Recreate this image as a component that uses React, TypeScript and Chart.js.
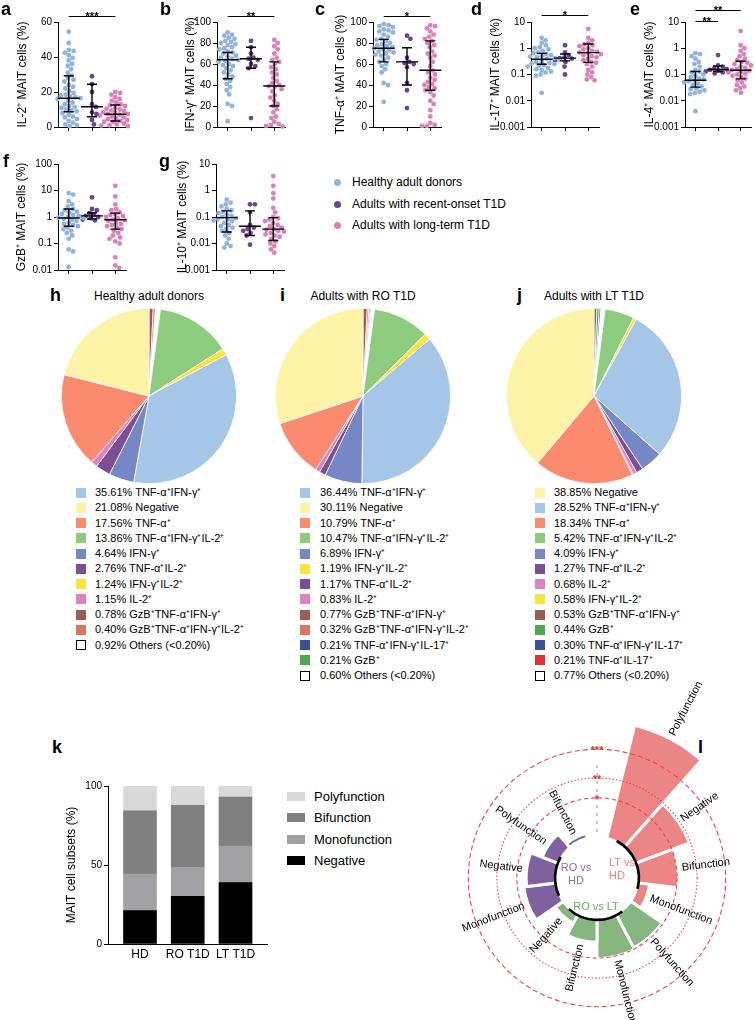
import React, { useEffect, useRef } from "react";
import { Chart, registerables } from "chart.js";

Chart.register(...registerables);

const FONT = '"Liberation Sans", Arial, Helvetica, sans-serif';
Chart.defaults.font.family = FONT;
Chart.defaults.color = "#000";

/* ================= DATA ================= */
const groupNames = ["Healthy adult donors", "Adults with recent-onset T1D", "Adults with long-term T1D"];
const groupColors = ["#8fb3e3", "#6a4592", "#dc80bb"];

// a: IL-2+
const aHD = [54.5, 48, 44, 43.5, 42.5, 41, 39.5, 38, 36, 35, 33, 31, 29.5, 28, 27, 26, 24, 23, 22, 20.5, 19.5, 18.5, 18, 17.5, 17, 16.5, 16, 15, 14, 13, 12, 11.5, 11, 10, 9.5, 9, 8, 7, 6, 5.5, 4.5, 3.5, 2.5, 1.5, 1, 0.5];
const aRO = [29, 24.5, 20, 13, 11.5, 8.5, 7.5, 4, 1.5];
const aLT = [20, 19.5, 18.5, 17, 16, 15, 14, 13, 12.5, 12, 11, 10.5, 10, 9.5, 9, 8.5, 8, 7.5, 7.5, 7, 6.5, 6, 5.5, 5, 4.5, 4, 3.5, 3, 3, 2.5, 2, 1.5, 1, 0.8, 0.5, 0.3];
const aMedian = [16.4, 11.6, 7.3];
const aQ1 = [8.7, 5.9, 3.4];
const aQ3 = [29.3, 24.4, 12.6];
const aTicks = [0, 20, 40, 60];
const aTickLabels = ["0", "20", "40", "60"];
const aSig = [[1, 3, "***"]];

// b: IFN-g+
const bHD = [90, 88, 87, 85, 84, 82, 81, 80, 79, 78, 76, 75, 74, 72, 71, 70, 68, 67, 66, 65, 64, 63, 62, 60, 59, 58, 56, 54, 52, 50, 48, 46, 44, 41, 38, 35, 31, 22, 20, 5.5];
const bRO = [82, 76, 70, 66, 65, 64, 60, 58, 56, 8.5];
const bLT = [83, 80, 77, 74, 70, 66, 64, 62, 60, 57, 55, 52, 50, 47, 44, 42, 40, 39, 38, 36, 34, 30, 28, 25, 22, 20, 17, 14, 10, 8.5, 5, 3, 2, 1, 0.5];
const bMedian = [64, 65, 39];
const bQ1 = [46, 56, 20];
const bQ3 = [71, 76, 62];
const pctTicks = [0, 20, 40, 60, 80, 100];
const pctTickLabels = ["0", "20", "40", "60", "80", "100"];
const bSig = [[1, 3, "**"]];

// c: TNF-a+
const cHD = [98, 97, 96, 95, 93, 92, 91, 90, 88, 86, 84, 83, 82, 80, 79, 78, 77, 76, 75, 74, 73, 72, 71, 70, 69, 68, 66, 64, 62, 60, 58, 55, 52, 42, 40, 24];
const cRO = [87, 84, 66, 62, 61, 60, 57, 42, 35, 18];
const cLT = [97, 96, 94, 91, 88, 86, 84, 82, 80, 78, 76, 72, 70, 68, 66, 62, 58, 54, 52, 50, 47, 45, 43, 41, 40, 38, 37, 35, 33, 30, 25, 22, 16, 10, 4, 2, 1, 1];
const cMedian = [75, 62, 54];
const cQ1 = [62, 40, 35];
const cQ3 = [83.5, 75.5, 82];
const cSig = [[1, 3, "*"]];

// d: IL-17+
const dHD = [2.5, 2.0, 1.6, 1.3, 1.1, 1.0, 0.9, 0.8, 0.7, 0.65, 0.6, 0.55, 0.5, 0.48, 0.45, 0.42, 0.4, 0.38, 0.37, 0.35, 0.33, 0.3, 0.28, 0.26, 0.25, 0.23, 0.22, 0.2, 0.18, 0.16, 0.15, 0.13, 0.12, 0.1, 0.09, 0.02];
const dRO = [1.3, 0.7, 0.55, 0.45, 0.42, 0.4, 0.35, 0.3, 0.2, 0.1];
const dLT = [5.5, 2.5, 2.0, 1.6, 1.4, 1.3, 1.2, 1.0, 0.9, 0.8, 0.75, 0.7, 0.65, 0.6, 0.55, 0.5, 0.45, 0.4, 0.35, 0.3, 0.28, 0.25, 0.2, 0.15, 0.12, 0.1, 0.08, 0.065, 0.06];
const dMedian = [0.38, 0.42, 0.68];
const dQ1 = [0.245, 0.33, 0.29];
const dQ3 = [0.64, 0.6, 1.45];
const logTicks3 = [0.001, 0.01, 0.1, 1, 10];
const logTickLabels3 = ["0.001", "0.01", "0.1", "1", "10"];
const dSig = [[1, 3, "*"]];

// e: IL-4+
const eHD = [0.65, 0.6, 0.5, 0.4, 0.3, 0.25, 0.2, 0.15, 0.13, 0.12, 0.1, 0.09, 0.08, 0.07, 0.065, 0.06, 0.055, 0.05, 0.045, 0.04, 0.035, 0.03, 0.028, 0.025, 0.022, 0.02, 0.018, 0.004];
const eRO = [0.55, 0.22, 0.2, 0.17, 0.16, 0.15, 0.14, 0.13, 0.12, 0.11];
const eLT = [4.5, 1.3, 1.0, 0.8, 0.6, 0.5, 0.4, 0.35, 0.3, 0.28, 0.25, 0.22, 0.2, 0.18, 0.16, 0.15, 0.14, 0.13, 0.12, 0.11, 0.1, 0.09, 0.08, 0.07, 0.06, 0.05, 0.04, 0.035, 0.03, 0.025, 0.02];
const eMedian = [0.06, 0.155, 0.145];
const eQ1 = [0.033, 0.13, 0.068];
const eQ3 = [0.13, 0.21, 0.32];
const eSig = [[1, 3, "**"], [1, 2, "**"]];

// f: GzB+
const fHD = [8, 7, 4, 3, 2.5, 2, 1.8, 1.6, 1.5, 1.3, 1.2, 1.1, 1.0, 0.95, 0.9, 0.85, 0.8, 0.7, 0.6, 0.55, 0.5, 0.45, 0.4, 0.35, 0.3, 0.25, 0.2, 0.15, 0.06, 0.05, 0.013];
const fRO = [5.5, 2.0, 1.8, 1.4, 1.2, 1.1, 1.0, 0.9, 0.8, 0.75];
const fLT = [15, 6, 3, 2, 1.8, 1.5, 1.3, 1.2, 1.1, 1.0, 0.9, 0.8, 0.75, 0.7, 0.6, 0.55, 0.5, 0.45, 0.4, 0.35, 0.3, 0.25, 0.2, 0.17, 0.15, 0.12, 0.1, 0.03, 0.015, 0.012];
const fMedian = [0.92, 1.1, 0.79];
const fQ1 = [0.45, 0.84, 0.35];
const fQ3 = [2.0, 1.45, 1.4];
const logTicks2 = [0.01, 0.1, 1, 10, 100];
const logTickLabels2 = ["0.01", "0.1", "1", "10", "100"];

// g: IL-10+
const gHD = [0.45, 0.35, 0.3, 0.25, 0.2, 0.18, 0.16, 0.14, 0.12, 0.11, 0.1, 0.09, 0.085, 0.08, 0.075, 0.07, 0.06, 0.05, 0.045, 0.04, 0.035, 0.03, 0.025, 0.02, 0.015, 0.01, 0.008, 0.007];
const gRO = [0.3, 0.3, 0.15, 0.05, 0.04, 0.035, 0.03, 0.025, 0.02, 0.009];
const gLT = [3.5, 1.5, 0.8, 0.5, 0.22, 0.15, 0.1, 0.09, 0.08, 0.07, 0.06, 0.05, 0.045, 0.04, 0.035, 0.033, 0.03, 0.028, 0.025, 0.022, 0.02, 0.018, 0.015, 0.012, 0.01, 0.008, 0.006, 0.0045];
const gMedian = [0.095, 0.045, 0.035];
const gQ1 = [0.027, 0.02, 0.013];
const gQ3 = [0.17, 0.17, 0.095];

// Pies (slice order clockwise from 12 o'clock)
const OTHERS = "Others (<0.20%)";
const pieColorMap = {
  "TNF-α⁺IFN-γ⁺": "#a5c6e6",
  "Negative": "#fcf3a6",
  "TNF-α⁺": "#fa8b6f",
  "TNF-α⁺IFN-γ⁺IL-2⁺": "#8dcc7f",
  "IFN-γ⁺": "#7687c6",
  "TNF-α⁺IL-2⁺": "#7b4f98",
  "IFN-γ⁺IL-2⁺": "#f7e43c",
  "IL-2⁺": "#de83bf",
  "GzB⁺TNF-α⁺IFN-γ⁺": "#9c5d55",
  "GzB⁺TNF-α⁺IFN-γ⁺IL-2⁺": "#da765e",
  "GzB⁺": "#4fa84e",
  "TNF-α⁺IFN-γ⁺IL-17⁺": "#3d4f95",
  "TNF-α⁺IL-17⁺": "#e0312f",
  [OTHERS]: "#ffffff",
};
const hTitle = "Healthy adult donors";
const hLabels = ["GzB⁺TNF-α⁺IFN-γ⁺", "GzB⁺TNF-α⁺IFN-γ⁺IL-2⁺", OTHERS, "TNF-α⁺IFN-γ⁺IL-2⁺", "IFN-γ⁺IL-2⁺", "TNF-α⁺IFN-γ⁺", "IFN-γ⁺", "TNF-α⁺IL-2⁺", "IL-2⁺", "TNF-α⁺", "Negative"];
const hValues = [0.78, 0.40, 0.92, 13.86, 1.24, 35.61, 4.64, 2.76, 1.15, 17.56, 21.08];
const iTitle = "Adults with RO T1D";
const iLabels = ["GzB⁺TNF-α⁺IFN-γ⁺", "GzB⁺TNF-α⁺IFN-γ⁺IL-2⁺", "TNF-α⁺IFN-γ⁺IL-17⁺", "GzB⁺", OTHERS, "TNF-α⁺IFN-γ⁺IL-2⁺", "IFN-γ⁺IL-2⁺", "TNF-α⁺IFN-γ⁺", "IFN-γ⁺", "TNF-α⁺IL-2⁺", "IL-2⁺", "TNF-α⁺", "Negative"];
const iValues = [0.77, 0.32, 0.21, 0.21, 0.60, 10.47, 1.19, 36.44, 6.89, 1.17, 0.83, 10.79, 30.11];
const jTitle = "Adults with LT T1D";
const jLabels = ["GzB⁺TNF-α⁺IFN-γ⁺", "GzB⁺", "TNF-α⁺IFN-γ⁺IL-17⁺", OTHERS, "TNF-α⁺IFN-γ⁺IL-2⁺", "IFN-γ⁺IL-2⁺", "TNF-α⁺IFN-γ⁺", "IFN-γ⁺", "TNF-α⁺IL-2⁺", "IL-2⁺", "TNF-α⁺IL-17⁺", "TNF-α⁺", "Negative"];
const jValues = [0.53, 0.44, 0.30, 0.77, 5.42, 0.58, 28.52, 4.09, 1.27, 0.68, 0.21, 18.34, 38.85];

// k: stacked bars
const kCategories = ["HD", "RO T1D", "LT T1D"];
const kNegative = [21.08, 30.11, 38.85];
const kMonofunction = [23.2, 18.4, 23.2];
const kBifunction = [40.0, 39.3, 31.0];
const kPolyfunction = [15.72, 12.19, 6.95];
const kTicks = [0, 50, 100];
const kTitle = "MAIT cell subsets (%)";

// l: radial bars, values are -log10(p)
const polarGroupNames = ["LT vs HD", "RO vs LT", "RO vs HD"];
const ltVsHdLabels = ["Polyfunction", "Negative", "Bifunction", "Monofunction"];
const ltVsHdValues = [4.0, 1.96, 1.35, 0.35];
const roVsLtLabels = ["Polyfunction", "Monofunction", "Bifunction", "Negative"];
const roVsLtValues = [1.26, 1.32, 0.75, 0.28];
const roVsHdLabels = ["Monofunction", "Negative", "Polyfunction", "Bifunction"];
const roVsHdValues = [1.08, 0.98, 0.55, 0.1];
const sigP = [0.05, 0.01, 0.001];
const sigStars = ["*", "**", "***"];

/* ================= STYLE / LAYOUT ================= */
const X_MIN = 0.54;
const X_MAX = 3.46;
const PLOT_W = 70;
const AXIS_W = 58;
const K_X_MIN = 0.33;
const K_X_MAX = 3.66;

const scatterSpecs = [
  { letter: "a", title: "IL-2⁺ MAIT cells (%)", log: false, min: 0, max: 60, ticks: aTicks, tickLabels: aTickLabels, series: [aHD, aRO, aLT], med: aMedian, q1: aQ1, q3: aQ3, sig: aSig },
  { letter: "b", title: "IFN-γ⁺ MAIT cells (%)", log: false, min: 0, max: 100, ticks: pctTicks, tickLabels: pctTickLabels, series: [bHD, bRO, bLT], med: bMedian, q1: bQ1, q3: bQ3, sig: bSig },
  { letter: "c", title: "TNF-α⁺ MAIT cells (%)", log: false, min: 0, max: 100, ticks: pctTicks, tickLabels: pctTickLabels, series: [cHD, cRO, cLT], med: cMedian, q1: cQ1, q3: cQ3, sig: cSig },
  { letter: "d", title: "IL-17⁺ MAIT cells (%)", log: true, min: 0.001, max: 10, ticks: logTicks3, tickLabels: logTickLabels3, series: [dHD, dRO, dLT], med: dMedian, q1: dQ1, q3: dQ3, sig: dSig },
  { letter: "e", title: "IL-4⁺ MAIT cells (%)", log: true, min: 0.001, max: 10, ticks: logTicks3, tickLabels: logTickLabels3, series: [eHD, eRO, eLT], med: eMedian, q1: eQ1, q3: eQ3, sig: eSig },
  { letter: "f", title: "GzB⁺ MAIT cells (%)", log: true, min: 0.01, max: 100, ticks: logTicks2, tickLabels: logTickLabels2, series: [fHD, fRO, fLT], med: fMedian, q1: fQ1, q3: fQ3, sig: [] },
  { letter: "g", title: "IL-10⁺ MAIT cells (%)", log: true, min: 0.001, max: 10, ticks: logTicks3, tickLabels: logTickLabels3, series: [gHD, gRO, gLT], med: gMedian, q1: gQ1, q3: gQ3, sig: [] },
];
const scatterLayouts = [
  { axisX: 58, top: 0, plotTop: 22, plotBottom: 127, titleOffset: 35, sigY: [16], rightPad: 2, letterX: 1, letterBase: 15 },
  { axisX: 217, top: 0, plotTop: 22, plotBottom: 127, titleOffset: 26, sigY: [16], rightPad: 2, letterX: 160, letterBase: 15 },
  { axisX: 373, top: 0, plotTop: 22, plotBottom: 127, titleOffset: 32, sigY: [16], rightPad: 2, letterX: 315, letterBase: 15 },
  { axisX: 531, top: 0, plotTop: 22, plotBottom: 127, titleOffset: 35, sigY: [15], rightPad: 2, letterX: 471, letterBase: 15 },
  { axisX: 685, top: 0, plotTop: 22, plotBottom: 127, titleOffset: 35, sigY: [10, 21], rightPad: 0, letterX: 630, letterBase: 15 },
  { axisX: 58, top: 150, plotTop: 164, plotBottom: 270, titleOffset: 36, sigY: [], rightPad: 2, letterX: 3, letterBase: 167 },
  { axisX: 216, top: 150, plotTop: 164, plotBottom: 270, titleOffset: 33, sigY: [], rightPad: 2, letterX: 159, letterBase: 167 },
];

const pieLayouts = [
  { letter: "h", letterX: 50, cx: 149, squareX: 76, textX: 95, title: hTitle, labels: hLabels, values: hValues },
  { letter: "i", letterX: 280, cx: 363, squareX: 300, textX: 320, title: iTitle, labels: iLabels, values: iValues },
  { letter: "j", letterX: 517, cx: 594, squareX: 535, textX: 554, title: jTitle, labels: jLabels, values: jValues },
];
const PIE_CY = 396;
const PIE_SIZE = 176;
const LEGEND_Y0 = 492.5;
const LEGEND_DY = 15.25;

const polarColors = ["#ec8585", "#85b67f", "#7f619f"];
const polarTextColors = ["#ee8080", "#6daa66", "#8b6caf"];
const groupArcsDeg = [[28, 105], [143, 222], [245, 300]];
const sigDash = [[4, 3], [1.5, 2], [5, 3]];
const POLAR_MIN = -1.5;
const POLAR_MAX = 3.465;

/* ================= HELPERS ================= */
function swarm(values, toPx, diam) {
  const order = values.map((_, i) => i).sort((a, b) => values[b] - values[a]);
  const placed = [];
  const out = new Array(values.length).fill(0);
  for (const i of order) {
    const y = toPx(values[i]);
    let chosen = 0;
    for (let k = 0; k < 600; k++) {
      const c = k === 0 ? 0 : (k % 2 === 1 ? 1 : -1) * Math.ceil(k / 2) * 0.5;
      if (placed.every((p) => (p.x - c) ** 2 + (p.y - y) ** 2 >= diam * diam)) {
        chosen = c;
        break;
      }
    }
    placed.push({ x: chosen, y });
    out[i] = chosen;
  }
  return out;
}

function scatterConfig(spec, lay) {
  const H = lay.plotBottom - lay.plotTop;
  const lmin = Math.log10(spec.min);
  const lmax = Math.log10(spec.max);
  const toPx = spec.log
    ? (v) => ((Math.log10(v) - lmin) / (lmax - lmin)) * H
    : (v) => ((v - spec.min) / (spec.max - spec.min)) * H;
  const pxPerX = PLOT_W / (X_MAX - X_MIN);
  const datasets = spec.series.map((vals, g) => {
    const offs = swarm(vals, toPx, 4.7);
    return {
      data: vals.map((v, i) => ({ x: g + 1 + offs[i] / pxPerX, y: v })),
      backgroundColor: groupColors[g],
      borderWidth: 0,
      pointRadius: 2.4,
      clip: false,
    };
  });
  const deco = {
    id: "scatterDeco",
    afterDatasetsDraw(chart) {
      const { ctx, chartArea, scales } = chart;
      const x = scales.x;
      const y = scales.y;
      ctx.save();
      ctx.strokeStyle = "#000";
      ctx.lineWidth = 1.4;
      spec.med.forEach((m, g) => {
        const cx = x.getPixelForValue(g + 1);
        const ym = y.getPixelForValue(m);
        const y1 = y.getPixelForValue(spec.q1[g]);
        const y3 = y.getPixelForValue(spec.q3[g]);
        ctx.beginPath();
        ctx.moveTo(cx - 11, ym);
        ctx.lineTo(cx + 11, ym);
        ctx.moveTo(cx, y1);
        ctx.lineTo(cx, y3);
        ctx.moveTo(cx - 5, y1);
        ctx.lineTo(cx + 5, y1);
        ctx.moveTo(cx - 5, y3);
        ctx.lineTo(cx + 5, y3);
        ctx.stroke();
      });
      ctx.lineWidth = 1;
      ctx.fillStyle = "#000";
      ctx.font = `bold 11px ${FONT}`;
      ctx.textAlign = "center";
      ctx.textBaseline = "alphabetic";
      spec.sig.forEach(([a, b, t], k) => {
        const ly = lay.sigY[k] - lay.top + 0.5;
        const x1 = x.getPixelForValue(a);
        const x2 = x.getPixelForValue(b);
        ctx.beginPath();
        ctx.moveTo(x1, ly);
        ctx.lineTo(x2, ly);
        ctx.stroke();
        ctx.fillText(t, (x1 + x2) / 2, ly + 3);
      });
      ctx.font = `12px ${FONT}`;
      ctx.textBaseline = "middle";
      ctx.translate(chartArea.left - lay.titleOffset, (chartArea.top + chartArea.bottom) / 2);
      ctx.rotate(-Math.PI / 2);
      ctx.fillText(spec.title, 0, 0);
      ctx.restore();
    },
  };
  return {
    type: "scatter",
    data: { datasets },
    options: {
      animation: false,
      responsive: false,
      events: [],
      layout: { padding: { top: lay.plotTop - lay.top, right: lay.rightPad, left: 0, bottom: 0 } },
      plugins: { legend: { display: false }, tooltip: { enabled: false } },
      scales: {
        x: {
          type: "linear",
          offset: false,
          min: X_MIN,
          max: X_MAX,
          afterBuildTicks: (s) => {
            s.ticks = [1, 2, 3].map((v) => ({ value: v }));
            s.min = X_MIN;
            s.max = X_MAX;
          },
          ticks: { display: false },
          grid: { drawOnChartArea: false, drawTicks: true, tickLength: 4, color: "#000", lineWidth: 1 },
          border: { display: true, color: "#000", width: 1 },
          afterFit: (s) => {
            s.height = 8;
            s.paddingLeft = 0;
            s.paddingRight = 0;
          },
        },
        y: {
          type: spec.log ? "logarithmic" : "linear",
          min: spec.min,
          max: spec.max,
          afterBuildTicks: (s) => {
            s.ticks = spec.ticks.map((v) => ({ value: v }));
            s.min = spec.min;
            s.max = spec.max;
          },
          ticks: { callback: (v, i) => spec.tickLabels[i], font: { size: 10 }, padding: 2, color: "#000", autoSkip: false },
          grid: { drawOnChartArea: false, drawTicks: true, tickLength: 4, color: "#000", lineWidth: 1 },
          border: { display: true, color: "#000", width: 1 },
          afterFit: (s) => {
            s.width = AXIS_W;
          },
        },
      },
    },
    plugins: [deco],
  };
}

function pieConfig(labels, values) {
  return {
    type: "pie",
    data: {
      labels,
      datasets: [{ data: values, backgroundColor: labels.map((l) => pieColorMap[l]), borderColor: "#ffffff", borderWidth: 0.8 }],
    },
    options: {
      animation: false,
      responsive: false,
      events: [],
      layout: { padding: 0 },
      plugins: { legend: { display: false }, tooltip: { enabled: false } },
    },
  };
}

function barConfig() {
  const series = [
    { label: "Negative", data: kNegative, color: "#000000" },
    { label: "Monofunction", data: kMonofunction, color: "#a1a1a4" },
    { label: "Bifunction", data: kBifunction, color: "#808080" },
    { label: "Polyfunction", data: kPolyfunction, color: "#d9d9d9" },
  ];
  return {
    type: "bar",
    data: {
      datasets: series.map((s) => ({
        label: s.label,
        data: s.data.map((v, i) => ({ x: i + 1, y: v })),
        backgroundColor: s.color,
        borderWidth: 0,
        barThickness: 33,
      })),
    },
    options: {
      animation: false,
      responsive: false,
      events: [],
      layout: { padding: { top: 16, right: 2, left: 0, bottom: 0 } },
      plugins: { legend: { display: false }, tooltip: { enabled: false } },
      scales: {
        x: {
          type: "linear",
          stacked: true,
          offset: false,
          min: K_X_MIN,
          max: K_X_MAX,
          afterBuildTicks: (s) => {
            s.ticks = kCategories.map((_, i) => ({ value: i + 1 }));
            s.min = K_X_MIN;
            s.max = K_X_MAX;
          },
          ticks: { callback: (v, i) => kCategories[i], font: { size: 12 }, padding: 3, autoSkip: false, maxRotation: 0, minRotation: 0, color: "#000" },
          grid: { drawOnChartArea: false, drawTicks: false, offset: false },
          border: { display: true, color: "#000", width: 1 },
          afterFit: (s) => {
            s.height = 20;
            s.paddingLeft = 0;
            s.paddingRight = 0;
          },
        },
        y: {
          stacked: true,
          min: 0,
          max: 100,
          afterBuildTicks: (s) => {
            s.ticks = kTicks.map((v) => ({ value: v }));
          },
          ticks: { font: { size: 10 }, padding: 2, color: "#000" },
          grid: { drawOnChartArea: false, drawTicks: true, tickLength: 4, color: "#000" },
          border: { display: true, color: "#000", width: 1 },
          title: { display: true, text: kTitle, font: { size: 12 }, padding: { top: 14.8, bottom: 0 }, color: "#000" },
          afterFit: (s) => {
            s.width = AXIS_W;
          },
        },
      },
    },
  };
}

function polarConfig() {
  const labels = ["", ...ltVsHdLabels, ...roVsLtLabels, ...roVsHdLabels];
  const values = [0, ...ltVsHdValues, ...roVsLtValues, ...roVsHdValues];
  const colors = [
    "rgba(0,0,0,0)",
    ...ltVsHdValues.map(() => polarColors[0]),
    ...roVsLtValues.map(() => polarColors[1]),
    ...roVsHdValues.map(() => polarColors[2]),
  ];
  const deco = {
    id: "polarDeco",
    afterDatasetsDraw(chart) {
      const ctx = chart.ctx;
      const r = chart.scales.r;
      const cx = r.xCenter;
      const cy = r.yCenter;
      const rad = (v) => r.getDistanceFromCenterForValue(v);
      const r0 = rad(0);
      const toA = (deg) => ((deg - 90) * Math.PI) / 180;
      ctx.save();
      ctx.fillStyle = "#fff";
      ctx.beginPath();
      ctx.arc(cx, cy, r0 - 0.5, 0, Math.PI * 2);
      ctx.fill();
      sigP.forEach((p, i) => {
        ctx.setLineDash(sigDash[i]);
        ctx.strokeStyle = "#ec4640";
        ctx.lineWidth = 1.1;
        ctx.beginPath();
        ctx.arc(cx, cy, rad(-Math.log10(p)), 0, Math.PI * 2);
        ctx.stroke();
      });
      ctx.setLineDash([3, 5]);
      ctx.strokeStyle = "#c9c9c9";
      ctx.lineWidth = 2;
      ctx.beginPath();
      ctx.moveTo(cx, cy - r0 - 3);
      ctx.lineTo(cx, cy - rad(3) + 16);
      ctx.stroke();
      ctx.setLineDash([]);
      ctx.strokeStyle = "#000";
      ctx.lineWidth = 2.6;
      groupArcsDeg.forEach(([a1, a2]) => {
        ctx.beginPath();
        ctx.arc(cx, cy, r0 - 1, toA(a1), toA(a2));
        ctx.stroke();
      });
      ctx.fillStyle = "#e8302a";
      ctx.font = `bold 11px ${FONT}`;
      ctx.textAlign = "center";
      ctx.textBaseline = "alphabetic";
      sigP.forEach((p, i) => {
        ctx.fillText(sigStars[i], cx, cy - rad(-Math.log10(p)) + 5);
      });
      const meta = chart.getDatasetMeta(0);
      ctx.fillStyle = "#000";
      ctx.font = `11px ${FONT}`;
      ctx.textBaseline = "middle";
      meta.data.forEach((el, i) => {
        if (i === 0) return;
        const { startAngle, endAngle, outerRadius } = el.getProps(["startAngle", "endAngle", "outerRadius"], true);
        const a = (startAngle + endAngle) / 2;
        const rr = outerRadius + 4;
        ctx.save();
        ctx.translate(cx, cy);
        if (Math.cos(a) >= 0) {
          ctx.rotate(a);
          ctx.textAlign = "left";
          ctx.fillText(labels[i], rr, 0);
        } else {
          ctx.rotate(a + Math.PI);
          ctx.textAlign = "right";
          ctx.fillText(labels[i], -rr, 0);
        }
        ctx.restore();
      });
      ctx.textAlign = "center";
      ctx.textBaseline = "middle";
      ctx.font = `11px ${FONT}`;
      const lt = polarGroupNames[0].split(" ");
      const rl = polarGroupNames[1];
      const rh = polarGroupNames[2].split(" ");
      ctx.fillStyle = polarTextColors[0];
      ctx.fillText(`${lt[0]} ${lt[1]}`, cx + 25, cy - 15);
      ctx.fillText(lt[2], cx + 20, cy - 2);
      ctx.fillStyle = polarTextColors[1];
      ctx.fillText(rl, cx - 1, cy + 29);
      ctx.fillStyle = polarTextColors[2];
      ctx.fillText(`${rh[0]} ${rh[1]}`, cx - 21, cy - 10);
      ctx.fillText(rh[2], cx - 21, cy + 3);
      ctx.restore();
    },
  };
  return {
    type: "polarArea",
    data: {
      labels,
      datasets: [{ data: values, backgroundColor: colors, borderColor: "#ffffff", borderWidth: 3, clip: false }],
    },
    options: {
      animation: false,
      responsive: false,
      events: [],
      layout: { padding: { top: 76, left: 0, right: 0, bottom: 0 } },
      plugins: { legend: { display: false }, tooltip: { enabled: false } },
      scales: {
        r: {
          min: POLAR_MIN,
          max: POLAR_MAX,
          startAngle: -180 / 13,
          afterBuildTicks: (s) => {
            s.min = POLAR_MIN;
            s.max = POLAR_MAX;
          },
          ticks: { display: false },
          grid: { display: false },
          angleLines: { display: false },
          pointLabels: { display: false },
        },
      },
    },
    plugins: [deco],
  };
}

/* ================= COMPONENTS ================= */
function ChartBox({ left, top, width, height, make }) {
  const ref = useRef(null);
  useEffect(() => {
    const chart = new Chart(ref.current, make());
    return () => chart.destroy();
  }, []);
  return <canvas ref={ref} width={width} height={height} style={{ position: "absolute", left, top, width, height }} />;
}

function Txt({ x, y, s, children, bold = false, align = "left", color = "#000" }) {
  const style = {
    position: "absolute",
    top: y - s / 2,
    fontSize: s,
    lineHeight: `${s}px`,
    fontWeight: bold ? 700 : 400,
    color,
    whiteSpace: "nowrap",
    fontFamily: FONT,
    left: x,
  };
  if (align === "center") style.transform = "translateX(-50%)";
  return <div style={style}>{children}</div>;
}

function Letter({ x, base, t }) {
  return <Txt x={x} y={base - 6.4} s={18} bold>{t}</Txt>;
}

function PieLegend({ labels, values, squareX, textX }) {
  const items = labels.map((l, i) => ({ l, v: values[i] }));
  const sorted = [
    ...items.filter((it) => it.l !== OTHERS).sort((a, b) => b.v - a.v),
    ...items.filter((it) => it.l === OTHERS),
  ];
  return (
    <>
      {sorted.map((it, k) => {
        const cy = LEGEND_Y0 + k * LEGEND_DY;
        const isOther = it.l === OTHERS;
        return (
          <React.Fragment key={k}>
            <div
              style={{
                position: "absolute",
                left: squareX,
                top: cy - 5,
                width: 10,
                height: 10,
                boxSizing: "border-box",
                background: pieColorMap[it.l],
                border: isOther ? "1.4px solid #000" : "none",
              }}
            />
            <Txt x={textX} y={cy} s={11}>{`${it.v.toFixed(2)}% ${it.l}`}</Txt>
          </React.Fragment>
        );
      })}
    </>
  );
}

export default function App() {
  const kLegend = [
    { label: "Polyfunction", color: "#d9d9d9" },
    { label: "Bifunction", color: "#808080" },
    { label: "Monofunction", color: "#a1a1a4" },
    { label: "Negative", color: "#000000" },
  ];
  const kLegendY = [796, 817, 839, 860];
  const groupLegendY = [182, 204, 225];
  return (
    <div style={{ position: "absolute", left: 0, top: 0, width: 755, height: 1020, overflow: "hidden", background: "#fff", fontFamily: FONT }}>
      {scatterSpecs.map((spec, i) => {
        const lay = scatterLayouts[i];
        return (
          <React.Fragment key={spec.letter}>
            <ChartBox
              left={lay.axisX - AXIS_W}
              top={lay.top}
              width={AXIS_W + PLOT_W + lay.rightPad}
              height={lay.plotBottom + 8 - lay.top}
              make={() => scatterConfig(spec, lay)}
            />
            <Letter x={lay.letterX} base={lay.letterBase} t={spec.letter} />
          </React.Fragment>
        );
      })}

      {groupNames.map((g, i) => (
        <React.Fragment key={g}>
          <div style={{ position: "absolute", left: 333.5, top: groupLegendY[i] - 3.5, width: 7, height: 7, borderRadius: "50%", background: groupColors[i] }} />
          <Txt x={352} y={groupLegendY[i]} s={12}>{g}</Txt>
        </React.Fragment>
      ))}

      {pieLayouts.map((p) => (
        <React.Fragment key={p.letter}>
          <Letter x={p.letterX} base={301} t={p.letter} />
          <Txt x={p.cx} y={296} s={12} align="center">{p.title}</Txt>
          <ChartBox left={p.cx - PIE_SIZE / 2} top={PIE_CY - PIE_SIZE / 2} width={PIE_SIZE} height={PIE_SIZE} make={() => pieConfig(p.labels, p.values)} />
          <PieLegend labels={p.labels} values={p.values} squareX={p.squareX} textX={p.textX} />
        </React.Fragment>
      ))}

      <Letter x={52} base={753} t="k" />
      <ChartBox left={50} top={770} width={AXIS_W + 159 + 2} height={194} make={barConfig} />
      {kLegend.map((it, i) => (
        <React.Fragment key={it.label}>
          <div style={{ position: "absolute", left: 287, top: kLegendY[i] - 4.5, width: 18, height: 9, background: it.color }} />
          <Txt x={314} y={kLegendY[i]} s={13}>{it.label}</Txt>
        </React.Fragment>
      ))}

      <Letter x={698} base={753} t="l" />
      <ChartBox left={440} top={660} width={315} height={360} make={polarConfig} />
    </div>
  );
}
